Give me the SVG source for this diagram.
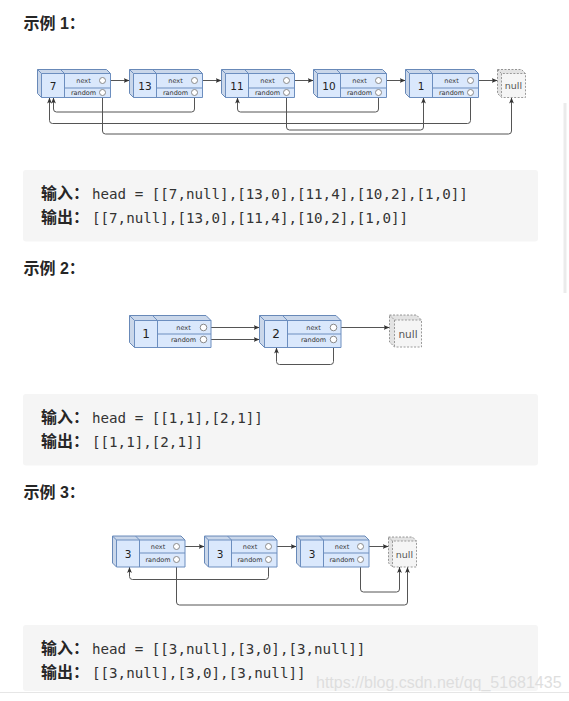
<svg xmlns="http://www.w3.org/2000/svg" xmlns:xlink="http://www.w3.org/1999/xlink" width="569" height="701" viewBox="0 0 569 701">
<style>
.h{font-family:"Liberation Sans","Noto Sans CJK SC",sans-serif;font-weight:bold;font-size:16px;fill:#262626}
.cj{font-family:"Liberation Sans","Noto Sans CJK SC",sans-serif;font-weight:bold;font-size:16px;fill:#262626}
.mono{font-family:"DejaVu Sans Mono","Liberation Mono",monospace;font-size:14.2px;fill:#333}
.codebox{fill:#f5f5f5}
.face{fill:#dae8fc;stroke:#6c8ebf;stroke-width:1}
.dark{fill:#000;fill-opacity:0.07;stroke:none}
.ln{fill:none;stroke:#6c8ebf;stroke-width:1}
.cir{fill:#fff;stroke:#8a8a8a;stroke-width:1}
.lab{font-family:"DejaVu Sans",sans-serif;font-size:6.5px;fill:#333;text-anchor:middle}
.val{font-family:"DejaVu Sans",sans-serif;font-size:10.5px;fill:#222;text-anchor:middle}
.val2{font-family:"DejaVu Sans",sans-serif;font-size:12px;fill:#222;text-anchor:middle}
.nface{fill:#f5f5f5;stroke:#9a9a9a;stroke-width:1;stroke-dasharray:2 1.5}
.nln{fill:none;stroke:#9a9a9a;stroke-width:1;stroke-dasharray:2 1.5}
.ntxt{font-family:"DejaVu Sans",sans-serif;font-size:9.5px;fill:#555;text-anchor:middle}
.con{fill:none;stroke:#555;stroke-width:1;marker-end:url(#arr)}
.wm{font-family:"Liberation Sans",Arial,sans-serif;font-size:16px;fill:#dedede}
</style>
<defs>
<marker id="arr" viewBox="0 0 10 10" refX="10" refY="5" markerWidth="6" markerHeight="6" markerUnits="userSpaceOnUse" orient="auto">
<path d="M0,1 L10,5 L0,9 L2.5,5 Z" fill="#333"/>
</marker>
<g id="box1">
<path class="face" d="M0,0 H69 L73,4 V28 H4 L0,24 Z"/>
<path class="dark" d="M0,0 H69 L73,4 H4 Z M0,0 L4,4 V28 L0,24 Z"/>
<path class="ln" d="M0,0 L4,4 H73 M4,4 V28 M23,0 L27,4 V28 M27,18.5 H73"/>
<text class="lab" x="46" y="13.5">next</text>
<text class="lab" x="46" y="25.5">random</text>
<circle class="cir" cx="65" cy="11" r="3"/>
<circle class="cir" cx="65" cy="23" r="3"/>
</g>
<g id="box2">
<path class="face" d="M0,0 H76.5 L81.5,5 V32 H5 L0,27 Z"/>
<path class="dark" d="M0,0 H76.5 L81.5,5 H5 Z M0,0 L5,5 V32 L0,27 Z"/>
<path class="ln" d="M0,0 L5,5 H81.5 M5,5 V32 M23,0 L28,5 V32 M28,18.5 H81.5"/>
<text class="lab" x="54" y="14.5">next</text>
<text class="lab" x="54" y="26.5">random</text>
<circle class="cir" cx="74" cy="12" r="3.3"/>
<circle class="cir" cx="74" cy="24" r="3.3"/>
</g>
<g id="box3">
<path class="face" d="M0,0 H68.5 L72.5,4 V31 H4 L0,27 Z"/>
<path class="dark" d="M0,0 H68.5 L72.5,4 H4 Z M0,0 L4,4 V31 L0,27 Z"/>
<path class="ln" d="M0,0 L4,4 H72.5 M4,4 V31 M23,0 L27,4 V31 M27,17 H72.5"/>
<text class="lab" x="45.5" y="13">next</text>
<text class="lab" x="45.5" y="26">random</text>
<circle class="cir" cx="64" cy="10.5" r="3"/>
<circle class="cir" cx="64" cy="23.5" r="3"/>
</g>
</defs>
<rect width="569" height="701" fill="#fff"/>
<rect x="563.5" y="103" width="3" height="190" fill="#ebebeb"/>

<text class="h" x="23.5" y="29">示例 1：</text>
<text class="h" x="23.5" y="274">示例 2：</text>
<text class="h" x="23.5" y="498">示例 3：</text>

<g id="code1">
<rect class="codebox" x="23" y="170" width="515" height="71.5" rx="3"/>
<text class="cj" x="41" y="199">输入：</text><text class="mono" x="92" y="199">head = [[7,null],[13,0],[11,4],[10,2],[1,0]]</text>
<text class="cj" x="41" y="223">输出：</text><text class="mono" x="92" y="223">[[7,null],[13,0],[11,4],[10,2],[1,0]]</text>
</g>
<g id="code2">
<rect class="codebox" x="23" y="394" width="515" height="71.5" rx="3"/>
<text class="cj" x="41" y="423">输入：</text><text class="mono" x="92" y="423">head = [[1,1],[2,1]]</text>
<text class="cj" x="41" y="447">输出：</text><text class="mono" x="92" y="447">[[1,1],[2,1]]</text>
</g>
<g id="code3">
<rect class="codebox" x="23" y="625" width="515" height="66" rx="3"/>
<text class="cj" x="41" y="654">输入：</text><text class="mono" x="92" y="654">head = [[3,null],[3,0],[3,null]]</text>
<text class="cj" x="41" y="678">输出：</text><text class="mono" x="92" y="678">[[3,null],[3,0],[3,null]]</text>
</g>

<g id="connectors">
<path class="con" d="M105.5,80.5 H129.5"/>
<path class="con" d="M197.5,80.5 H221.5"/>
<path class="con" d="M289.5,80.5 H313.5"/>
<path class="con" d="M381.5,80.5 H405.5"/>
<path class="con" d="M473.5,80.5 H497.5"/>
<path class="con" d="M102.5,95.5 V131 Q102.5,134 105.5,134 H508.5 Q511.5,134 511.5,131 V97.5"/>
<path class="con" d="M194.5,95.5 V109 Q194.5,112 191.5,112 H56.5 Q53.5,112 53.5,109 V97.5"/>
<path class="con" d="M286.5,95.5 V127 Q286.5,130 289.5,130 H420.5 Q423.5,130 423.5,127 V97.5"/>
<path class="con" d="M378.5,95.5 V109 Q378.5,112 375.5,112 H240.5 Q237.5,112 237.5,109 V97.5"/>
<path class="con" d="M470.5,95.5 V120.5 Q470.5,123.5 467.5,123.5 H52.5 Q49.5,123.5 49.5,120.5 V97.5"/>

<path class="con" d="M206.5,327.5 H259.5"/>
<path class="con" d="M206.5,339.5 H259.5"/>
<path class="con" d="M336.5,327.5 H389.5"/>
<path class="con" d="M333.5,342.5 V361.5 Q333.5,364.5 330.5,364.5 H279.5 Q276.5,364.5 276.5,361.5 V347.5"/>

<path class="con" d="M179.5,546.5 H204.5"/>
<path class="con" d="M271.5,546.5 H296.5"/>
<path class="con" d="M363.5,546.5 H388.5"/>
<path class="con" d="M176.5,562.5 V602 Q176.5,605 179.5,605 H404.5 Q407.5,605 407.5,602 V567"/>
<path class="con" d="M268.5,562.5 V576.5 Q268.5,579.5 265.5,579.5 H132.5 Q129.5,579.5 129.5,576.5 V567"/>
<path class="con" d="M360.5,562.5 V589 Q360.5,592 363.5,592 H396.5 Q399.5,592 399.5,589 V567"/>
</g>

<g id="ex1-n0" transform="translate(37.5,69.5)"><use xlink:href="#box1"/><text class="val" x="15.5" y="20">7</text></g>
<g id="ex1-n1" transform="translate(129.5,69.5)"><use xlink:href="#box1"/><text class="val" x="15.5" y="20">13</text></g>
<g id="ex1-n2" transform="translate(221.5,69.5)"><use xlink:href="#box1"/><text class="val" x="15.5" y="20">11</text></g>
<g id="ex1-n3" transform="translate(313.5,69.5)"><use xlink:href="#box1"/><text class="val" x="15.5" y="20">10</text></g>
<g id="ex1-n4" transform="translate(405.5,69.5)"><use xlink:href="#box1"/><text class="val" x="15.5" y="20">1</text></g>
<g id="ex1-null" transform="translate(497.5,69.5)">
<path class="nface" d="M0,0 H24 L28,4 V28 H4 L0,24 Z"/>
<path class="dark" d="M0,0 H24 L28,4 H4 Z M0,0 L4,4 V28 L0,24 Z"/>
<path class="nln" d="M0,0 L4,4 H28 M4,4 V28"/>
<text class="ntxt" x="16" y="19.5">null</text>
</g>

<g id="ex2-n0" transform="translate(129.5,315.5)"><use xlink:href="#box2"/><text class="val2" x="16.5" y="22.5">1</text></g>
<g id="ex2-n1" transform="translate(259.5,315.5)"><use xlink:href="#box2"/><text class="val2" x="16.5" y="22.5">2</text></g>
<g id="ex2-null" transform="translate(389.5,315)">
<path class="nface" d="M0,0 H27 L32,5 V32 H5 L0,27 Z"/>
<path class="dark" d="M0,0 H27 L32,5 H5 Z M0,0 L5,5 V32 L0,27 Z"/>
<path class="nln" d="M0,0 L5,5 H32 M5,5 V32"/>
<text class="ntxt" x="18.5" y="22.5" style="font-size:10.5px">null</text>
</g>

<g id="ex3-n0" transform="translate(112.5,536)"><use xlink:href="#box3"/><text class="val" x="15.5" y="21.5">3</text></g>
<g id="ex3-n1" transform="translate(204.5,536)"><use xlink:href="#box3"/><text class="val" x="15.5" y="21.5">3</text></g>
<g id="ex3-n2" transform="translate(296.5,536)"><use xlink:href="#box3"/><text class="val" x="15.5" y="21.5">3</text></g>
<g id="ex3-null" transform="translate(388.5,537)">
<path class="nface" d="M0,0 H24 L28,4 V30 H4 L0,26 Z"/>
<path class="dark" d="M0,0 H24 L28,4 H4 Z M0,0 L4,4 V30 L0,26 Z"/>
<path class="nln" d="M0,0 L4,4 H28 M4,4 V30"/>
<text class="ntxt" x="16" y="20.5">null</text>
</g>

<line x1="0" y1="692.5" x2="569" y2="692.5" stroke="#e6e6e6" stroke-width="1"/>
<text class="wm" x="316" y="688">https://blog.csdn.net/qq_51681435</text>
</svg>
